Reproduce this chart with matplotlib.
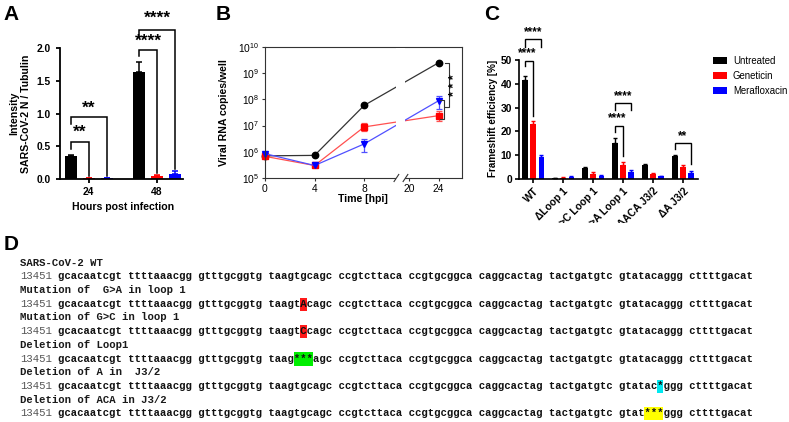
import numpy as np
import matplotlib
matplotlib.use('Agg')
import matplotlib.pyplot as plt
from matplotlib.patches import Rectangle, Patch
from matplotlib.ticker import NullLocator, FixedLocator

plt.rcParams['font.family'] = ['Liberation Sans', 'DejaVu Sans']
plt.rcParams['mathtext.default'] = 'regular'

# ---------------- data ----------------
series_names = ['Untreated', 'Geneticin', 'Merafloxacin']
series_colors = ['#000000', '#ff0000', '#0000ff']

# Panel A
a_hours = ['24', '48']
a_untreated = [0.35, 1.64]
a_untreated_err = [0.02, 0.14]
a_geneticin = [0.01, 0.05]
a_geneticin_err = [0.004, 0.012]
a_meraflox = [0.01, 0.07]
a_meraflox_err = [0.004, 0.055]

# Panel B
b_time = [0, 4, 8, 24]
b_ticks = [0, 4, 8, 20, 24]
b_untreated = [7.0e5, 7.3e5, 5.9e7, 2.5e9]
b_untreated_lo = [6.6e5, 6.9e5, 5.4e7, 2.35e9]
b_untreated_hi = [7.4e5, 7.7e5, 6.5e7, 2.65e9]
b_geneticin = [6.7e5, 3.0e5, 8.9e6, 2.4e7]
b_geneticin_lo = [6.0e5, 2.7e5, 6.0e6, 1.45e7]
b_geneticin_hi = [7.4e5, 3.3e5, 1.26e7, 3.5e7]
b_meraflox = [8.5e5, 3.0e5, 2.0e6, 8.9e7]
b_meraflox_lo = [7.8e5, 2.7e5, 9.5e5, 4.3e7]
b_meraflox_hi = [9.2e5, 3.3e5, 3.1e6, 1.38e8]

# Panel C
c_constructs = ['WT', 'ΔLoop 1', 'G->C Loop 1', 'G->A Loop 1', 'ΔACA J3/2', 'ΔA J3/2']
c_untreated = [41.5, 0.3, 4.8, 15.3, 5.9, 9.7]
c_untreated_err = [1.6, 0.1, 0.3, 2.0, 0.3, 0.4]
c_geneticin = [23.2, 0.6, 2.1, 5.8, 2.0, 5.0]
c_geneticin_err = [1.0, 0.2, 0.8, 1.2, 0.5, 1.0]
c_meraflox = [9.2, 1.0, 1.2, 3.0, 1.1, 2.6]
c_meraflox_err = [0.8, 0.3, 0.3, 0.6, 0.3, 0.6]

# Panel D
d_titles = ['SARS-CoV-2 WT', 'Mutation of  G>A in loop 1', 'Mutation of G>C in loop 1',
            'Deletion of Loop1', 'Deletion of A in  J3/2', 'Deletion of ACA in J3/2']
d_start = '13451'
d_sequences = [
    'gcacaatcgt ttttaaacgg gtttgcggtg taagtgcagc ccgtcttaca ccgtgcggca caggcactag tactgatgtc gtatacaggg cttttgacat',
    'gcacaatcgt ttttaaacgg gtttgcggtg taagtAcagc ccgtcttaca ccgtgcggca caggcactag tactgatgtc gtatacaggg cttttgacat',
    'gcacaatcgt ttttaaacgg gtttgcggtg taagtCcagc ccgtcttaca ccgtgcggca caggcactag tactgatgtc gtatacaggg cttttgacat',
    'gcacaatcgt ttttaaacgg gtttgcggtg taag***agc ccgtcttaca ccgtgcggca caggcactag tactgatgtc gtatacaggg cttttgacat',
    'gcacaatcgt ttttaaacgg gtttgcggtg taagtgcagc ccgtcttaca ccgtgcggca caggcactag tactgatgtc gtatac*ggg cttttgacat',
    'gcacaatcgt ttttaaacgg gtttgcggtg taagtgcagc ccgtcttaca ccgtgcggca caggcactag tactgatgtc gtat***ggg cttttgacat',
]
d_highlight_colors = [None, '#ff1a1a', '#ff1a1a', '#00ee00', '#00e8f0', '#ffff00']

# ---------------- figure ----------------
W, H = 789, 422
fig = plt.figure(figsize=(W / 100, H / 100), dpi=100)


def px(l, t, r, b):
    return [l / W, 1 - b / H, (r - l) / W, (b - t) / H]


FS = 7.4


def style_prism(ax, lw=1.3):
    for s in ['top', 'right']:
        ax.spines[s].set_visible(False)
    for s in ['left', 'bottom']:
        ax.spines[s].set_linewidth(lw)
    ax.tick_params(direction='out', length=3, width=lw, labelsize=FS)
    for lab in ax.get_xticklabels() + ax.get_yticklabels():
        lab.set_fontweight('bold')


def bracket(ax, x1, x2, y, y1, y2, lw=1.1, color='k'):
    ax.plot([x1, x1, x2, x2], [y1, y, y, y2], color=color, lw=lw,
            clip_on=False, solid_joinstyle='miter', zorder=4)


# ---------------- Panel A ----------------
axA = fig.add_axes(px(60, 48, 183, 179))
xg = np.arange(len(a_hours))
offA, bwA = 0.263, 0.18
a_vals = [a_untreated, a_geneticin, a_meraflox]
a_errs = [a_untreated_err, a_geneticin_err, a_meraflox_err]
for i in range(3):
    xs = xg + (i - 1) * offA
    axA.bar(xs, a_vals[i], bwA, color=series_colors[i], lw=0, zorder=2)
    axA.errorbar(xs, a_vals[i], yerr=[np.zeros(len(xs)), a_errs[i]], fmt='none',
                 ecolor=series_colors[i], elinewidth=1.1, capsize=2.5, capthick=1.1, zorder=2)
axA.set_xlim(-0.42, 1.38)
axA.set_ylim(0, 2.0)
axA.set_yticks([0, 0.5, 1.0, 1.5, 2.0])
axA.set_xticks(xg)
axA.set_xticklabels(a_hours)
style_prism(axA)
axA.tick_params(axis='x', pad=3)
axA.set_ylabel('Intensity\nSARS-CoV-2 N / Tubulin', fontsize=7.6, fontweight='bold',
               va='center', linespacing=1.2)
axA.yaxis.set_label_coords(-0.321, 0.5)
axA.set_xlabel('Hours post infection', fontsize=7.6, fontweight='bold', va='center')
axA.xaxis.set_label_coords(0.516, -0.214)

starA = dict(ha='center', va='center', fontsize=12.5, fontweight='bold', clip_on=False)
bracket(axA, -offA, 0, 0.57, 0.46, 0.04)
axA.text(-offA / 2, 0.71, '**', **starA)
bracket(axA, -offA, offA, 0.94, 0.84, 0.04)
axA.text(0, 1.08, '**', **starA)
bracket(axA, 1 - offA, 1, 1.97, 1.88, 0.09)
axA.text(1 - offA / 2, 2.11, '****', **starA)
bracket(axA, 1 - offA, 1 + offA, 2.27, 2.17, 0.16)
axA.text(1, 2.45, '****', **starA)

# ---------------- Panel B ----------------


def fwd(x):
    x = np.asarray(x, float)
    return np.where(x <= 8, x, np.where(x < 20, 8 + (x - 8) * 0.3, 11.6 + (x - 20) * 0.6))


def inv(y):
    y = np.asarray(y, float)
    return np.where(y <= 8, y, np.where(y < 11.6, 8 + (y - 8) / 0.3, 20 + (y - 11.6) / 0.6))


axB = fig.add_axes(px(265, 47, 462, 178))
axB.set_xscale('function', functions=(fwd, inv))
axB.set_yscale('log')
b_sets = [(b_untreated, b_untreated_lo, b_untreated_hi, '#000000', '#333333', 'o'),
          (b_geneticin, b_geneticin_lo, b_geneticin_hi, '#ff0000', '#ff5050', 's'),
          (b_meraflox, b_meraflox_lo, b_meraflox_hi, '#0000ff', '#5050ff', 'v')]
for vals, lo, hi, mc, lc, mk in b_sets:
    v = np.array(vals)
    eb = axB.errorbar(b_time, v, yerr=[v - np.array(lo), np.array(hi) - v], color=lc,
                      ecolor=lc, marker=mk, mfc=mc, mec=mc, ms=4.6, lw=0.9,
                      elinewidth=0.9, capsize=2.2, capthick=0.9, zorder=2)
    eb[0].set_clip_on(False)
axB.set_xlim(0, 27.15)
axB.set_ylim(1e5, 1e10)
axB.xaxis.set_major_locator(FixedLocator(b_ticks))
axB.xaxis.set_minor_locator(NullLocator())
axB.yaxis.set_minor_locator(NullLocator())
for s in axB.spines.values():
    s.set_linewidth(0.8)
    s.set_color('#333333')
axB.tick_params(direction='out', length=2.5, width=0.8, labelsize=FS, color='#333333')
axB.tick_params(axis='x', pad=1.5)
axB.tick_params(axis='y', pad=2)
# broken axis gap
axB.add_patch(Rectangle((0.667, -0.03), 0.046, 1.02, transform=axB.transAxes,
                        fc='white', ec='none', zorder=2.6, clip_on=False))
for xb in (0.667, 0.713):
    axB.plot([xb - 0.012, xb + 0.012], [-0.027, 0.027], transform=axB.transAxes,
             color='#333333', lw=0.8, clip_on=False, zorder=3)
# significance
ytr = axB.get_yaxis_transform()
axB.plot([0.914, 0.934, 0.934, 0.914], [2.5e9, 2.5e9, 5.3e7, 5.3e7], transform=ytr,
         color='#333333', lw=0.8, zorder=3)
axB.plot([0.889, 0.909, 0.909, 0.889], [9.5e7, 9.5e7, 1.8e7, 1.8e7], transform=ytr,
         color='#333333', lw=0.8, zorder=3)
axB.text(0.966, 3.5e8, '* * *', transform=ytr, rotation=90, ha='center', va='center',
         fontsize=9, fontweight='bold')
axB.set_ylabel('Viral RNA copies/well', fontsize=7.6, fontweight='bold', va='center')
axB.yaxis.set_label_coords(-0.208, 0.5)
axB.set_xlabel('Time [hpi]', fontsize=7.6, fontweight='bold', va='center')
axB.xaxis.set_label_coords(0.497, -0.16)

# ---------------- Panel C ----------------
axC = fig.add_axes(px(519, 60, 698, 179))
xc = np.arange(len(c_constructs))
offC, bwC = 0.277, 0.19
c_vals = [c_untreated, c_geneticin, c_meraflox]
c_errs = [c_untreated_err, c_geneticin_err, c_meraflox_err]
for i in range(3):
    xs = xc + (i - 1) * offC
    axC.bar(xs, c_vals[i], bwC, color=series_colors[i], lw=0, zorder=2, label=series_names[i])
    axC.errorbar(xs, c_vals[i], yerr=[np.zeros(len(xs)), c_errs[i]], fmt='none',
                 ecolor=series_colors[i], elinewidth=1.0, capsize=1.6, capthick=1.0, zorder=2)
axC.set_xlim(-0.47, 5.5)
axC.set_ylim(0, 50)
axC.set_yticks([0, 10, 20, 30, 40, 50])
axC.set_xticks(xc)
axC.set_xticklabels(c_constructs, rotation=45, ha='right', va='top', rotation_mode='anchor')
style_prism(axC, lw=1.2)
axC.tick_params(axis='x', pad=2)
axC.tick_params(axis='y', pad=2)
axC.set_ylabel('Frameshift efficiency [%]', fontsize=7.1, fontweight='bold', va='center')
axC.yaxis.set_label_coords(-0.145, 0.513)

starC = dict(ha='center', va='center', fontsize=8.5, fontweight='bold', clip_on=False)
bracket(axC, -offC, 0, 49.6, 47.5, 26.5, lw=1.0)
axC.text(-offC / 2 - 0.05, 52.8, '****', **starC)
bracket(axC, -offC, offC, 58.7, 55.6, 55.6, lw=1.0)
axC.text(0, 61.6, '****', **starC)
bracket(axC, 3 - offC, 3, 22.3, 19.9, 9.5, lw=1.0)
axC.text(3 - offC / 2 - 0.05, 25.4, '****', **starC)
bracket(axC, 3 - offC, 3 + offC, 32.0, 29.0, 29.0, lw=1.0)
axC.text(3, 35.0, '****', **starC)
bracket(axC, 5 - offC, 5 + offC, 15.0, 12.5, 6.5, lw=1.0)
axC.text(5, 18.0, '**', **starC)

handles = [Patch(facecolor=c, edgecolor='none') for c in series_colors]
fig.legend(handles, series_names, loc='upper left',
           bbox_to_anchor=(713 / W, 1 - 56 / H), frameon=False, fontsize=6.9,
           handlelength=1.45, handleheight=0.7, handletextpad=0.62,
           labelspacing=0.5, borderpad=0, borderaxespad=0)

# ---------------- Panel letters ----------------
for letter, x, yb in [('A', 3, 19.5), ('B', 216, 19.5), ('C', 484, 19.5)]:
    fig.text(x / W, 1 - yb / H, letter, fontsize=15, fontweight='bold', va='baseline', ha='left')

# cover to crop C tick labels (as in the reference)
fig.patches.append(Rectangle((0, 0), 1, 1 - 223 / H, transform=fig.transFigure,
                             fc='white', ec='none', zorder=10))

fig.text(4 / W, 1 - 250 / H, 'D', fontsize=15, fontweight='bold', va='baseline', ha='left', zorder=11)

# ---------------- Panel D ----------------
mono = 'Liberation Mono'
fsD = 7.64
cw = fsD * 100 / 72 * 0.6
x0 = 20.0
base0 = 265.6
step = 13.7
for k in range(len(d_titles)):
    yt = base0 + 2 * k * step
    ys = yt + step
    fig.text(x0 / W, 1 - yt / H, d_titles[k], family=mono, fontsize=fsD, fontweight='bold',
             color='#1a1a1a', va='baseline', ha='left', zorder=12)
    line = d_start + ' ' + d_sequences[k]
    col = d_highlight_colors[k]
    if col is not None:
        idx = [j for j, ch in enumerate(line) if ch == '*' or ch.isupper()]
        j0, n = idx[0], len(idx)
        fig.patches.append(Rectangle(((x0 + j0 * cw) / W, 1 - (ys + 4.0) / H),
                                     n * cw / W, 13.2 / H, transform=fig.transFigure,
                                     fc=col, ec='none', zorder=11.5))
    fig.text(x0 / W, 1 - ys / H, d_start, family=mono, fontsize=fsD, color='#555555',
             va='baseline', ha='left', zorder=12)
    fig.text((x0 + (len(d_start) + 1) * cw) / W, 1 - ys / H, d_sequences[k], family=mono,
             fontsize=fsD, fontweight='bold', color='#111111', va='baseline', ha='left', zorder=12)

fig.savefig('out.png', dpi=100)
